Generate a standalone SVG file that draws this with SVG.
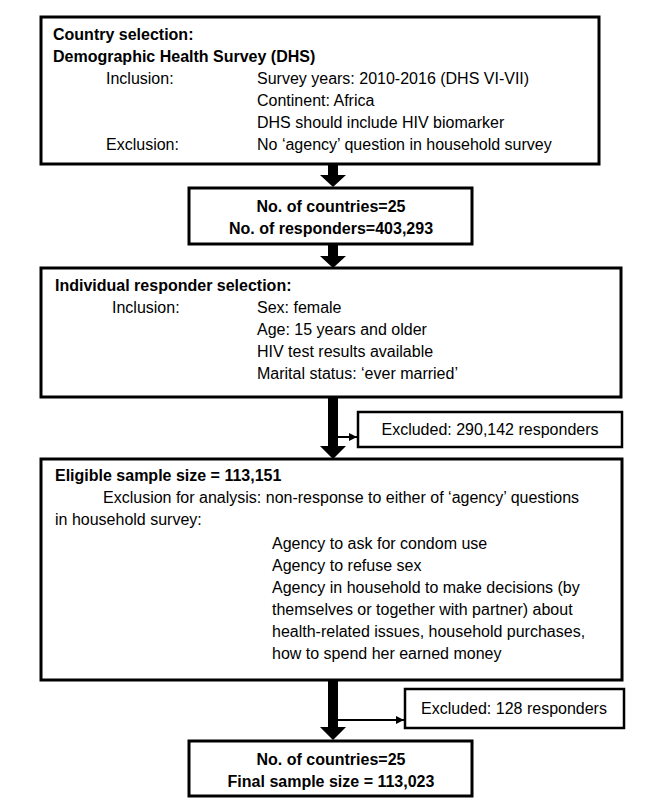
<svg xmlns="http://www.w3.org/2000/svg" width="661" height="805" viewBox="0 0 661 805">
<style>
.box{fill:#fff;stroke:#000;stroke-width:3}
.ex{fill:#fff;stroke:#000;stroke-width:2.5}
text{font-family:"Liberation Sans",Arial,sans-serif;font-size:16px;fill:#000}
.b{font-weight:bold}
.c{text-anchor:middle}
.thin{stroke:#000;stroke-width:2;fill:none}
</style>
<defs>
<marker id="ah" viewBox="0 0 10 10" refX="10" refY="5" markerWidth="4" markerHeight="4" orient="auto" markerUnits="strokeWidth">
<path d="M0,0 L10,5 L0,10 z" fill="#000"/>
</marker>
</defs>
<rect width="661" height="805" fill="#fff"/>
<g id="connectors">
<path d="M328,164 V175 H320 L333,187 L346,175 H338 V164 z" fill="#000"/>
<path d="M328,244 V256 H320 L333,268 L346,256 H338 V244 z" fill="#000"/>
<path d="M328,397 V446 H320 L333,459 L346,446 H338 V397 z" fill="#000"/>
<path d="M328,680 V727 H320 L333,740 L346,727 H338 V680 z" fill="#000"/>
<line class="thin" x1="338" y1="437" x2="357" y2="437" marker-end="url(#ah)"/>
<line class="thin" x1="338" y1="720" x2="404" y2="720" marker-end="url(#ah)"/>
</g>
<g id="country-selection">
<rect class="box" x="41" y="17" width="558" height="147"/>
<text class="b" x="53" y="40">Country selection:</text>
<text class="b" x="53" y="62">Demographic Health Survey (DHS)</text>
<text x="106" y="84">Inclusion:</text>
<text x="257" y="84">Survey years: 2010-2016 (DHS VI-VII)</text>
<text x="257" y="106">Continent: Africa</text>
<text x="257" y="128">DHS should include HIV biomarker</text>
<text x="106" y="150">Exclusion:</text>
<text x="257" y="150">No ‘agency’ question in household survey</text>
</g>
<g id="countries-count">
<rect class="box" x="189" y="188" width="283" height="56"/>
<text class="b c" x="331" y="212">No. of countries=25</text>
<text class="b c" x="331" y="234">No. of responders=403,293</text>
</g>
<g id="individual-selection">
<rect class="box" x="41" y="268" width="580" height="129"/>
<text class="b" x="55" y="291">Individual responder selection:</text>
<text x="112" y="313">Inclusion:</text>
<text x="257" y="313">Sex: female</text>
<text x="257" y="335">Age: 15 years and older</text>
<text x="257" y="357">HIV test results available</text>
<text x="257" y="379">Marital status: ‘ever married’</text>
</g>
<g id="excluded-1">
<rect class="ex" x="358" y="412" width="264" height="35"/>
<text class="c" x="490" y="435">Excluded: 290,142 responders</text>
</g>
<g id="eligible">
<rect class="box" x="41" y="459" width="581" height="221"/>
<text class="b" x="55" y="481">Eligible sample size = 113,151</text>
<text x="103" y="503">Exclusion for analysis: non-response to either of ‘agency’ questions</text>
<text x="55" y="525">in household survey:</text>
<text x="272" y="549">Agency to ask for condom use</text>
<text x="272" y="571">Agency to refuse sex</text>
<text x="272" y="593">Agency in household to make decisions (by</text>
<text x="272" y="615">themselves or together with partner) about</text>
<text x="272" y="637">health-related issues, household purchases,</text>
<text x="272" y="659">how to spend her earned money</text>
</g>
<g id="excluded-2">
<rect class="ex" x="405" y="689" width="219" height="39"/>
<text class="c" x="514" y="714">Excluded: 128 responders</text>
</g>
<g id="final">
<rect class="box" x="189" y="741" width="283" height="55"/>
<text class="b c" x="331" y="765">No. of countries=25</text>
<text class="b c" x="331" y="787">Final sample size = 113,023</text>
</g>
</svg>
